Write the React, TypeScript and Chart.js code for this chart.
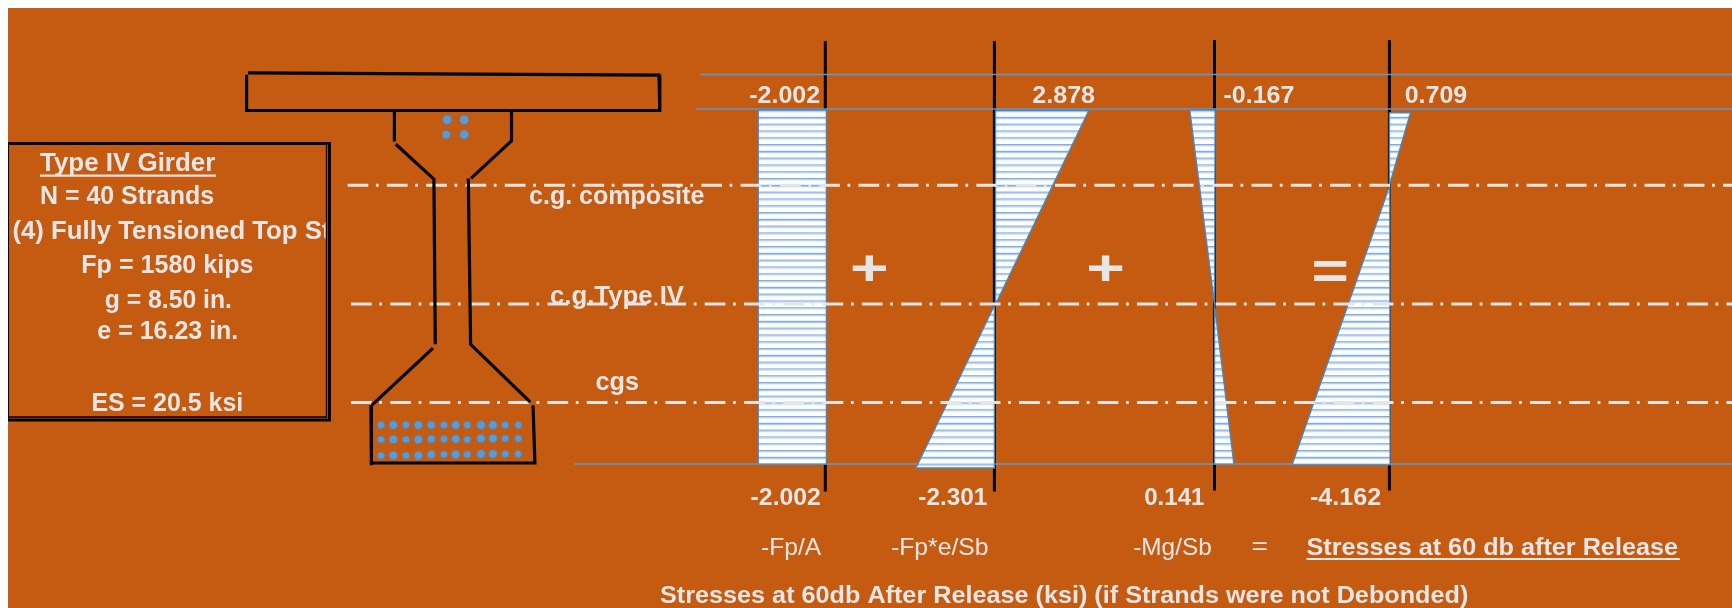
import React, { useEffect, useRef } from "react";
import { Chart, registerables } from "chart.js";

Chart.register(...registerables);

type P = [number, number];

// ---- values ----
const topStress = [-2.002, 2.878, -0.167, 0.709];
const bottomStress = [-2.002, -2.301, 0.141, -4.162];
const termLabels = ["-Fp/A", "-Fp*e/Sb", "-Mg/Sb", "="];
const boxLines = [
  "Type IV Girder",
  "N = 40 Strands",
  "(4) Fully Tensioned Top St",
  "Fp = 1580 kips",
  "g = 8.50 in.",
  "e = 16.23 in.",
  "ES = 20.5 ksi",
];
const levelLabels = ["c.g. composite", "c.g.Type IV", "cgs"];
const operators = ["+", "+", "="];
const resultTitle = "Stresses at 60 db after Release";
const chartTitle = "Stresses at 60db After Release (ksi) (if Strands were not Debonded)";

// stress blocks, in diagram coordinates
const blockA: P[] = [[758.2, 109.7], [826.4, 109.7], [826.4, 464.1], [758.2, 464.1], [758.2, 109.7]];
const blockB1: P[] = [[995.5, 110.5], [1088.8, 110.5], [995.5, 304.4], [995.5, 110.5]];
const blockB2: P[] = [[994.4, 305.5], [915.9, 468], [994.4, 468], [994.4, 305.5]];
const blockC1: P[] = [[1189.7, 109.7], [1215.2, 109.7], [1214.5, 304.4], [1189.7, 109.7]];
const blockC2: P[] = [[1214.5, 304.4], [1233.9, 464.1], [1214.9, 464.1], [1214.5, 304.4]];
const blockD1: P[] = [[1389.4, 112.8], [1410.5, 112.8], [1389.4, 185.3], [1389.4, 112.8]];
const blockD2: P[] = [[1389.8, 185.3], [1292, 464.9], [1390.1, 464.9], [1389.8, 185.3]];

// girder section
const slab: P[] = [[248, 72.9], [659, 75.2], [659.8, 110.5], [246.6, 110.5], [246.6, 74.8]];
const girderLines: P[][] = [
  [[394.4, 111.3], [394.4, 141.5]],
  [[511.5, 111.3], [511.5, 140.8], [471, 178.4]],
  [[395.8, 144.2], [433.9, 179.1], [435.3, 344.3]],
  [[468.3, 178.4], [470.6, 344.3], [530.3, 402.1]],
  [[433, 348.2], [371.9, 405.2]],
  [[371, 405.2], [371.4, 465.3]],
  [[371.4, 463], [534.9, 463], [533, 405.2]],
];
const strandsTop: P[] = [[447.2, 119.8], [464.2, 119.8], [446.3, 134.6], [464.2, 134.6]];
const strandX = [381, 393.3, 406, 418.3, 431.3, 444, 455.7, 467.3, 481, 493, 505.3, 518.3];
const strandR = [3.6, 4.2, 3.6, 4.2, 4, 3.6, 4.2, 3.6, 4.2, 4.2, 3.6, 3.6];
const strandY1 = [425, 425, 425, 425, 425, 425, 425, 425, 425, 425, 425, 425];
const strandY2 = [439.5, 439.5, 439.5, 439.5, 439, 439, 439, 439.5, 438.5, 438.5, 438.5, 438.5];
const strandY3 = [455.5, 455.5, 455.5, 455.5, 454.5, 454.5, 454.5, 454.5, 454, 454, 454, 454];

// reference lines
const levelY = [185.3, 304, 402.5];
const levelStart = [347.6, 351, 351];
const guideY = [74.4, 109, 464];
const guideStart = [700, 696.5, 574];
const axisX = [825.3, 994.4, 1214.5, 1389.4];

const X0 = 8, Y0 = 8, W = 1724, H = 600;
const ORANGE = "#C55A11", INK = "#E7E6E6", BLUE = "#5B9BD5", EDGE = "#4A86BF";

type Place = { t: string; l: number; r?: number; sx?: number; b: number; s: number; bold?: boolean; clip?: number };
const places: Place[] = [
  { t: boxLines[0], l: 40, r: 215.3, b: 171.4, s: 25, bold: true },
  { t: boxLines[1], l: 40, r: 214, b: 203.6, s: 25, bold: true },
  { t: boxLines[2], l: 12.4, sx: 1.03, b: 238.5, s: 25, bold: true, clip: 325.5 },
  { t: boxLines[3], l: 81.3, r: 253.4, b: 273.4, s: 25, bold: true },
  { t: boxLines[4], l: 104.7, r: 231.9, b: 307.5, s: 25, bold: true },
  { t: boxLines[5], l: 97.3, r: 238.3, b: 339.3, s: 25, bold: true },
  { t: boxLines[6], l: 91.4, r: 243.3, b: 411, s: 25, bold: true },
  { t: levelLabels[0], l: 529, r: 704.3, b: 204.3, s: 25, bold: true },
  { t: levelLabels[1], l: 550, r: 684, b: 304.4, s: 25, bold: true },
  { t: levelLabels[2], l: 595.5, r: 639, b: 389.7, s: 25, bold: true },
  { t: topStress[0].toFixed(3), l: 749.2, r: 820.2, b: 102.8, s: 24, bold: true },
  { t: topStress[1].toFixed(3), l: 1032.3, r: 1095, b: 102.8, s: 24, bold: true },
  { t: topStress[2].toFixed(3), l: 1223.5, r: 1294.4, b: 102.8, s: 24, bold: true },
  { t: topStress[3].toFixed(3), l: 1404.7, r: 1467.2, b: 102.8, s: 24, bold: true },
  { t: bottomStress[0].toFixed(3), l: 750.6, r: 820.9, b: 504.9, s: 24, bold: true },
  { t: bottomStress[1].toFixed(3), l: 918.3, r: 987.2, b: 504.9, s: 24, bold: true },
  { t: bottomStress[2].toFixed(3), l: 1144.2, r: 1204.5, b: 504.9, s: 24, bold: true },
  { t: bottomStress[3].toFixed(3), l: 1310, r: 1381.2, b: 504.9, s: 24, bold: true },
  { t: termLabels[0], l: 761, r: 821.2, b: 554.5, s: 24 },
  { t: termLabels[1], l: 891, r: 988.6, b: 554.5, s: 24 },
  { t: termLabels[2], l: 1133.2, r: 1211.7, b: 554.5, s: 24 },
  { t: termLabels[3], l: 1251.5, r: 1268, b: 553.7, s: 24 },
  { t: resultTitle, l: 1306.5, r: 1678, b: 554.5, s: 23, bold: true },
  { t: chartTitle, l: 660, r: 1468.3, b: 603, s: 23, bold: true },
  { t: operators[0], l: 850, r: 888.6, b: 285, s: 50, bold: true },
  { t: operators[1], l: 1086.3, r: 1124.9, b: 285, s: 50, bold: true },
  { t: operators[2], l: 1311.4, r: 1348.7, b: 289, s: 54, bold: true },
];

const textPlugin = {
  id: "diagramText",
  afterDatasetsDraw(chart: any) {
    const { ctx, scales } = chart;
    for (const p of places) {
      ctx.save();
      ctx.font = `${p.bold ? "bold " : ""}${p.s}px "Liberation Sans", Arial, sans-serif`;
      ctx.fillStyle = INK;
      ctx.textAlign = "left";
      ctx.textBaseline = "alphabetic";
      const x = scales.x.getPixelForValue(p.l);
      const y = scales.y.getPixelForValue(p.b);
      if (p.clip) {
        ctx.beginPath();
        ctx.rect(0, 0, scales.x.getPixelForValue(p.clip), chart.height);
        ctx.clip();
      }
      const w = ctx.measureText(p.t).width;
      const sx = p.sx ?? ((p.r as number) - p.l) / w;
      ctx.translate(x, y);
      ctx.scale(sx, 1);
      ctx.fillText(p.t, 0, 0);
      ctx.restore();
    }
  },
};

function makeHatch(): CanvasPattern | string {
  const c = document.createElement("canvas");
  c.width = 4;
  c.height = 34;
  const g = c.getContext("2d");
  if (!g) return "#fff";
  g.fillStyle = "#FFFFFF";
  g.fillRect(0, 0, 4, 34);
  for (let i = 0; i < 5; i++) {
    const y = i * 6.8;
    g.fillStyle = "#7FADDC";
    g.fillRect(0, y, 4, 1.2);
    g.fillStyle = "#AFCDEA";
    g.fillRect(0, y + 1.2, 4, 1);
    g.fillStyle = "#E4EDF6";
    g.fillRect(0, y + 2.2, 4, 0.8);
  }
  return g.createPattern(c, "repeat") ?? "#fff";
}

const pts = (a: P[]) => a.map(([x, y]) => ({ x, y }));

export default function App() {
  const ref = useRef<HTMLCanvasElement>(null);
  useEffect(() => {
    document.documentElement.style.overflow = "hidden";
    const hatch = makeHatch();
    const line = (a: P[], color: string, width: number, order: number, extra: any = {}) => ({
      type: "scatter",
      data: pts(a),
      showLine: true,
      borderColor: color,
      borderWidth: width,
      pointRadius: 0,
      fill: false,
      tension: 0,
      order,
      ...extra,
    });
    const block = (a: P[]) =>
      line(a, EDGE, 1.4, 30, { fill: "shape", backgroundColor: hatch });
    const dots = (xs: number[], ys: number[], rs: number[]) => ({
      type: "scatter",
      data: xs.map((x, i) => ({ x, y: ys[i] })),
      showLine: false,
      pointRadius: rs,
      pointBackgroundColor: BLUE,
      pointBorderColor: EDGE,
      pointBorderWidth: 0.8,
      order: 10,
    });
    const datasets: any[] = [
      ...axisX.map((x, i) => line([[x, i < 2 ? 41 : 40], [x, i < 2 ? 491.6 : 490.6]], "#000", 3, 50)),
      ...guideY.map((y, i) => line([[guideStart[i], y], [1732, y]], BLUE, 1.5, 40)),
      block(blockA), block(blockB1), block(blockB2), block(blockC1), block(blockC2), block(blockD1), block(blockD2),
      ...levelY.map((y, i) =>
        line([[levelStart[i], y], [1732, y]], INK, 3, 20, { borderDash: [20.7, 7.6, 2.8, 8.2] })
      ),
      line(slab, "#000", 3.2, 15),
      ...girderLines.map((a) => line(a, "#000", 3.2, 15)),
      dots(strandsTop.map((p) => p[0]), strandsTop.map((p) => p[1]), [4.5, 4.5, 4, 4.5]),
      dots(strandX, strandY1, strandR),
      dots(strandX, strandY2, strandR),
      dots(strandX, strandY3, strandR),
      line([[7.5, 143.5], [329.5, 143.5], [329.5, 420], [7.5, 420], [7.5, 143.5]], "#000", 3, 12),
      line([[326.5, 144], [326.5, 417], [8, 417]], "#000", 1.4, 12),
      line([[40, 175.6], [215.8, 175.6]], INK, 2.2, 5),
      line([[1306.5, 559], [1680, 559]], INK, 2.2, 5),
    ];
    const chart = new Chart(ref.current as HTMLCanvasElement, {
      type: "scatter",
      data: { datasets },
      options: {
        animation: false,
        responsive: false,
        events: [],
        layout: { padding: 0, autoPadding: false },
        plugins: { legend: { display: false }, tooltip: { enabled: false } },
        scales: {
          x: { type: "linear", display: false, min: X0, max: X0 + W },
          y: { type: "linear", display: false, min: Y0, max: Y0 + H, reverse: true },
        },
      },
      plugins: [textPlugin],
    } as any);
    return () => chart.destroy();
  }, []);
  return (
    <canvas
      ref={ref}
      width={W}
      height={H}
      style={{
        display: "block",
        position: "absolute",
        left: X0,
        top: Y0,
        width: W,
        height: H,
        background: ORANGE,
        filter: "blur(0.35px)",
      }}
    />
  );
}
